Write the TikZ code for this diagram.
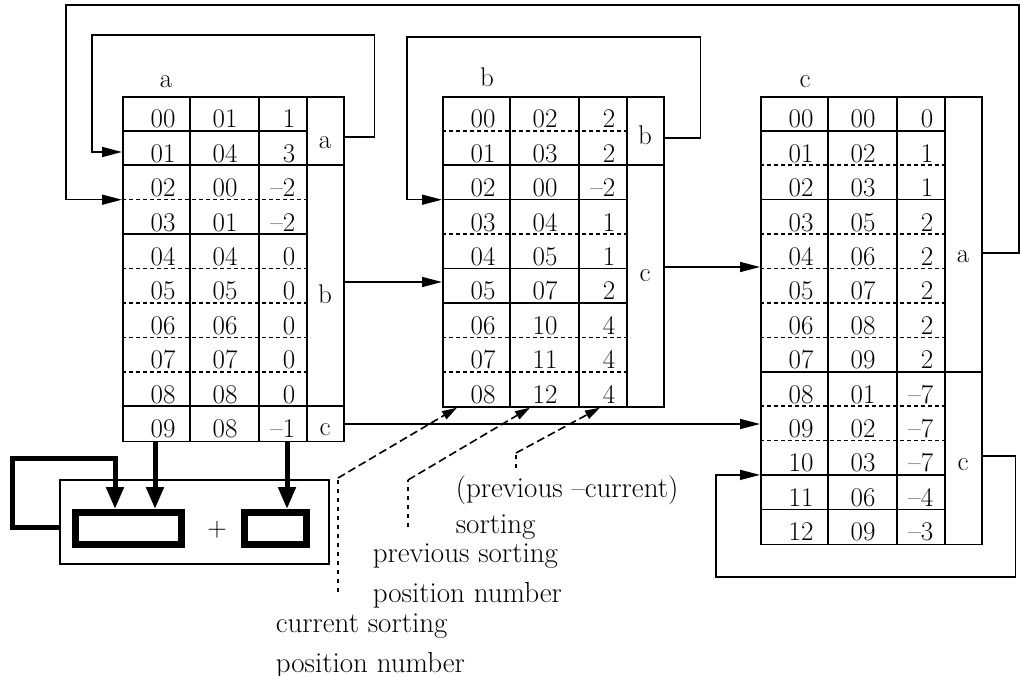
\documentclass[tikz,border=0pt]{standalone}
\usepackage{tikz}
\usetikzlibrary{positioning}
\usetikzlibrary{arrows.meta}
\usetikzlibrary{calc}

\begin{document}
\begin{tikzpicture}[x=1pt, y=-1pt, line width=1.6pt,
    tbl/.style={draw, anchor=north west, minimum width=221, inner sep=0pt},
    cell/.style={font=\fontsize{27}{32}\selectfont, inner sep=0pt, anchor=base},
    num/.style={cell, anchor=base east},
    rowsolid/.style={},
    rowdash/.style={dash pattern=on 4pt off 3pt},
    rownone/.style={draw=none},
    link/.style={-{Triangle[length=20pt, width=10pt]}},
    fatlink/.style={line width=5pt, -{Triangle[length=22pt, width=17pt]}},
    reg/.style={draw, line width=7pt, minimum height=32, inner sep=0pt},
    note/.style={font=\fontsize{29}{40}\selectfont, align=left, anchor=base west, inner sep=0pt},
    pointer/.style={dash pattern=on 8pt off 4pt, -{Triangle[length=15pt, width=9pt]}},
    lead/.style={dash pattern=on 4pt off 5pt}
]
    \fill[white] (0,0) rectangle (1020,676);
    \useasboundingbox (0,0) rectangle (1020,676);

    % table a
    \node[tbl, minimum height=344] (ta) at (122,96.5) {};
    \begin{scope}[shift={(ta.north west)}]
        \node[cell] at (44,-9) {a};
        \draw (68,0) -- (68,344) (137,0) -- (137,344) (185,0) -- (185,344);
        \draw (185,68.8) -- (221,68.8) (185,309.6) -- (221,309.6);
        \foreach \r/\p/\q/\d/\s in {0/00/01/1/rowsolid, 1/01/04/3/rowsolid,
            2/02/00/--2/rowdash, 3/03/01/--2/rowsolid, 4/04/04/0/rowdash,
            5/05/05/0/rowdash, 6/06/06/0/rowdash, 7/07/07/0/rowdash,
            8/08/08/0/rowsolid, 9/09/08/--1/rownone}{
            \node[cell] at (41,\r*34.4+31.4) {\p};
            \node[cell] at (103,\r*34.4+31.4) {\q};
            \node[num] at (174,\r*34.4+31.4) {\d};
            \draw[\s] (0,\r*34.4+34.4) -- (185,\r*34.4+34.4);
        }
        \node[cell] at (203,52) {a};
        \node[cell] at (203,207.5) {b};
        \node[cell] at (203,338.6) {c};
    \end{scope}

    % table b
    \node[tbl, minimum height=309.6] (tb) at (442,96.5) {};
    \begin{scope}[shift={(tb.north west)}]
        \node[cell] at (45,-9.5) {b};
        \draw (68,0) -- (68,309.6) (137,0) -- (137,309.6) (185,0) -- (185,309.6);
        \draw (185,68.8) -- (221,68.8);
        \foreach \r/\p/\q/\d/\s in {0/00/02/2/rowdash, 1/01/03/2/rowsolid,
            2/02/00/--2/rowsolid, 3/03/04/1/rowdash, 4/04/05/1/rowsolid,
            5/05/07/2/rowsolid, 6/06/10/4/rowdash, 7/07/11/4/rowdash,
            8/08/12/4/rownone}{
            \node[cell] at (41,\r*34.4+31.4) {\p};
            \node[cell] at (103,\r*34.4+31.4) {\q};
            \node[num] at (174,\r*34.4+31.4) {\d};
            \draw[\s] (0,\r*34.4+34.4) -- (185,\r*34.4+34.4);
        }
        \node[cell] at (203,48.5) {b};
        \node[cell] at (203,185.5) {c};
    \end{scope}

    % table c
    \node[tbl, minimum height=447.2] (tc) at (760,96.5) {};
    \begin{scope}[shift={(tc.north west)}]
        \node[cell] at (45,-8.5) {c};
        \draw (68,0) -- (68,447.2) (137,0) -- (137,447.2) (185,0) -- (185,447.2);
        \draw (185,275.2) -- (221,275.2);
        \foreach \r/\p/\q/\d/\s in {0/00/00/0/rowsolid, 1/01/02/1/rowdash,
            2/02/03/1/rowsolid, 3/03/05/2/rowdash, 4/04/06/2/rowdash,
            5/05/07/2/rowdash, 6/06/08/2/rowdash, 7/07/09/2/rowsolid,
            8/08/01/--7/rowdash, 9/09/02/--7/rowdash, 10/10/03/--7/rowsolid,
            11/11/06/--4/rowsolid, 12/12/09/--3/rownone}{
            \node[cell] at (41,\r*34.4+31.4) {\p};
            \node[cell] at (103,\r*34.4+31.4) {\q};
            \node[num] at (174,\r*34.4+31.4) {\d};
            \draw[\s] (0,\r*34.4+34.4) -- (185,\r*34.4+34.4);
        }
        \node[cell] at (203,166.5) {a};
        \node[cell] at (203,373.5) {c};
    \end{scope}

    % feedback loops
    \coordinate (aOutA) at ($(ta.north east)+(0,40.5)$);
    \coordinate (aInA) at ($(ta.north west)+(0,55.5)$);
    \draw[link] (aOutA) -- ++(30,0) |- (92,35) |- (aInA);
    \coordinate (cOutA) at ($(tc.north east)+(0,156.5)$);
    \coordinate (aInB) at ($(ta.north west)+(0,103.2)$);
    \draw[link] (cOutA) -| (1019,5) -| (66,150) |- (aInB);
    \coordinate (bOutB) at ($(tb.north east)+(0,41.5)$);
    \coordinate (bInC) at ($(tb.north west)+(0,103.2)$);
    \draw[link] (bOutB) -- ++(36,0) |- (407,37) |- (bInC);
    \coordinate (cOutC) at ($(tc.north east)+(0,359.5)$);
    \coordinate (cInD) at ($(tc.north west)+(0,378.4)$);
    \draw[link] (cOutC) -- ++(33,0) |- (716,577) |- (cInD);

    % table to table
    \coordinate (aOutB) at ($(ta.north east)+(0,185.5)$);
    \draw[link] (aOutB) -- (aOutB -| tb.west);
    \coordinate (aOutC) at ($(ta.north east)+(0,327.5)$);
    \draw[link] (aOutC) -- (aOutC -| tc.west);
    \coordinate (bOutC) at ($(tb.north east)+(0,170.5)$);
    \draw[link] (bOutC) -- (bOutC -| tc.west);

    % adder
    \node[draw, minimum width=269, minimum height=84, inner sep=0pt, anchor=north west] (adder) at (59,479) {};
    \node[reg, minimum width=106] (regA) at (128.5,528.5) {};
    \node[reg, minimum width=62] (regB) at (275.5,528.5) {};
    \node[cell, anchor=center] (plus) at (217,530) {+};
    \coordinate (aSum) at ($(ta.south west)+(33,0)$);
    \draw[fatlink] (aSum) -- (aSum |- regA.north);
    \coordinate (aDiff) at ($(ta.south west)+(165,0)$);
    \draw[fatlink] (aDiff) -- (aDiff |- regB.north);
    \draw[fatlink] ($(adder.west)+(0,6)$) -| (12,458) -| ($(regA.north west)+(43,0)$);

    % notes
    \node[note] (curNote) at (275,672) {current sorting\\position number};
    \node[note] (prvNote) at (372,602) {previous sorting\\position number};
    \node[note] (difNote) at (455,533) {(previous --current)\\[-4pt]sorting};
    \coordinate (curTip) at ($(tb.south west)+(15,0)$);
    \coordinate (prvTip) at ($(tb.south west)+(88,0)$);
    \coordinate (difTip) at ($(tb.south west)+(158,0)$);
    \coordinate (curBend) at (338,478);
    \coordinate (prvBend) at (408,480);
    \coordinate (difBend) at (516,453);
    \draw[lead] (338,592) -- (curBend);
    \draw[pointer] (curBend) -- (curTip);
    \draw[lead] (408,527) -- (prvBend);
    \draw[pointer] (prvBend) -- (prvTip);
    \draw[lead] (516,468) -- (difBend);
    \draw[pointer] (difBend) -- (difTip);
\end{tikzpicture}
\end{document}
